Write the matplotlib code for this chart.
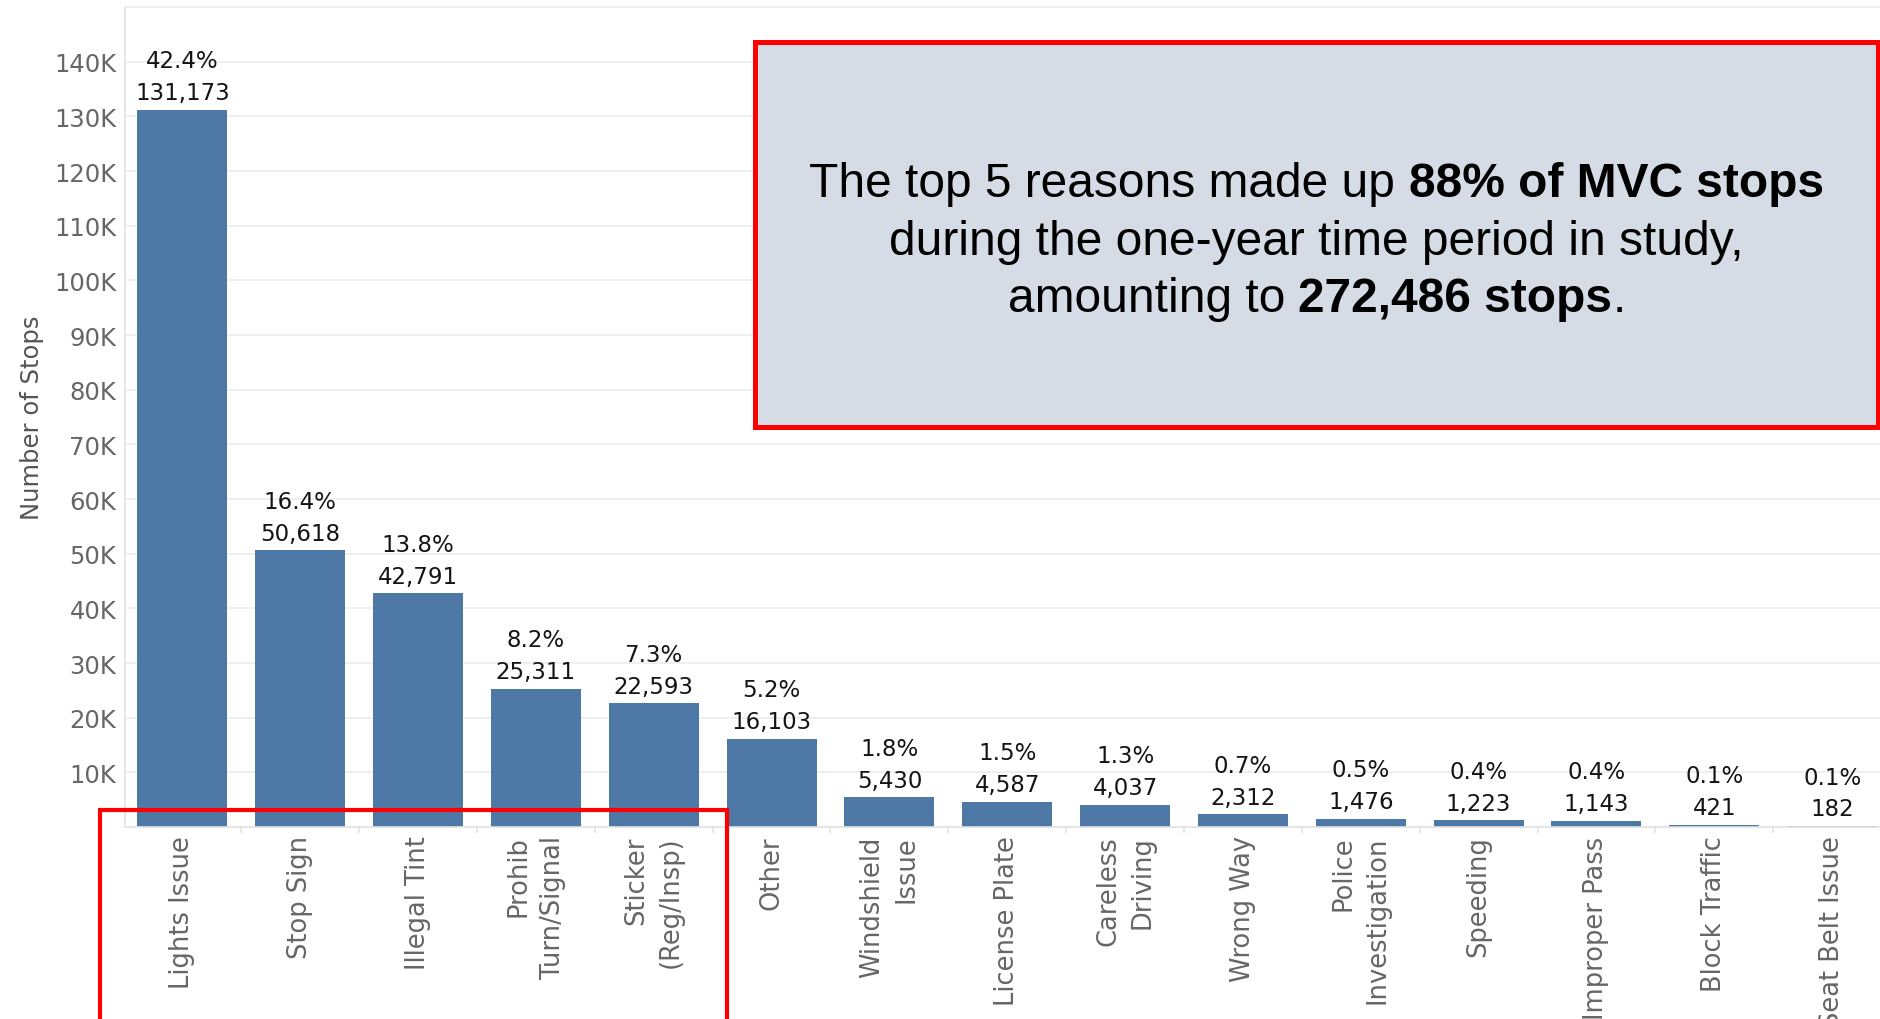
import matplotlib
matplotlib.use("Agg")
import matplotlib.pyplot as plt
from matplotlib.patches import Rectangle
from matplotlib.transforms import IdentityTransform

# ---------------- data ----------------
categories = ["Lights Issue", "Stop Sign", "Illegal Tint", "Prohib\nTurn/Signal",
              "Sticker\n(Reg/Insp)", "Other", "Windshield\nIssue", "License Plate",
              "Careless\nDriving", "Wrong Way", "Police\nInvestigation", "Speeding",
              "Improper Pass", "Block Traffic", "Seat Belt Issue"]
stops = [131173, 50618, 42791, 25311, 22593, 16103, 5430, 4587, 4037,
         2312, 1476, 1223, 1143, 421, 182]
percent_labels = ["42.4%", "16.4%", "13.8%", "8.2%", "7.3%", "5.2%", "1.8%", "1.5%",
                  "1.3%", "0.7%", "0.5%", "0.4%", "0.4%", "0.1%", "0.1%"]
ytick_values = [10000 * k for k in range(1, 15)]
ytick_labels = [f"{v // 1000}K" for v in ytick_values]
y_label = "Number of Stops"
callout_lines = [
    [("The top 5 reasons made up", "normal"), ("88% of MVC stops", "bold")],
    [("during the one-year time period in study,", "normal")],
    [("amounting to", "normal"), ("272,486 stops", "bold"), (".", "normal")],
]

# ---------------- style ----------------
W, H, DPI = 1880, 1020, 100
BAR_COLOR = "#4E79A7"
GRID_COLOR = "#EEEEEE"
AXIS_COLOR = "#E2E2E2"
TICK_COLOR = "#666666"

fig = plt.figure(figsize=(W / DPI, H / DPI), dpi=DPI)
fig.patch.set_facecolor("white")

ax_left, ax_bottom = 124.7 / W, (H - 828) / H
ax_top = (H - 8) / H
ax = fig.add_axes([ax_left, ax_bottom, 1.0 - ax_left, ax_top - ax_bottom])

x = list(range(len(categories)))
ax.bar(x, stops, width=0.764, color=BAR_COLOR, zorder=2)

ax.set_xlim(-0.489, len(categories) - 1 + 0.406)
ax.set_ylim(0, 150000)

# grid / spines
ax.set_axisbelow(True)
ax.yaxis.grid(True, color=GRID_COLOR, lw=1.3)
for s in ["left", "bottom", "top"]:
    ax.spines[s].set_color(AXIS_COLOR)
    ax.spines[s].set_linewidth(1.2)
ax.spines["top"].set_color(GRID_COLOR)
ax.spines["right"].set_visible(False)

# y ticks
ax.set_yticks(ytick_values)
ax.set_yticklabels(ytick_labels)
ax.tick_params(axis="y", length=0, pad=6, labelsize=17.5, labelcolor=TICK_COLOR)
for t in ax.get_yticklabels():
    t.set_family("DejaVu Sans")

ax.set_ylabel(y_label, fontsize=17.5, color="#555555", family="DejaVu Sans")
ax.yaxis.set_label_coords((44 - 124.7) / (W - 124.7), 0.5)

# x ticks
ax.set_xticks(x)
ax.set_xticklabels(categories, rotation=90, ma="right", fontsize=18.5,
                   color=TICK_COLOR, linespacing=1.4, family="DejaVu Sans")
ax.tick_params(axis="x", which="major", length=0, pad=6)
ax.set_xticks([i + 0.5 for i in range(len(categories) - 1)], minor=True)
ax.tick_params(axis="x", which="minor", length=4, width=1.2, color=AXIS_COLOR)

# bar value labels
for xi, v, p in zip(x, stops, percent_labels):
    ax.annotate(f"{v:,}", (xi, v), xytext=(0, 4), textcoords="offset points",
                ha="center", va="bottom", fontsize=16.5, color="#141414",
                family="DejaVu Sans")
    ax.annotate(p, (xi, v), xytext=(0, 27), textcoords="offset points",
                ha="center", va="bottom", fontsize=16.5, color="#141414",
                family="DejaVu Sans")

# ---------------- red boxes ----------------
# lower-left highlight box (top 5)
fig.add_artist(Rectangle((100 / W, -20 / H), (727 - 100) / W, (H - 811 + 20) / H,
                         transform=fig.transFigure, fill=False, edgecolor="#FF0000",
                         lw=3.0, zorder=5, clip_on=False))
# callout box
bx0, by_top, bx1, by_bot = 755, 43, 1878, 428
fig.add_artist(Rectangle((bx0 / W, (H - by_bot) / H), (bx1 - bx0) / W, (by_bot - by_top) / H,
                         transform=fig.transFigure, facecolor="#D6DCE5",
                         edgecolor="#FF0000", lw=3.6, zorder=5))

# callout rich text
renderer = fig.canvas.get_renderer()
FS = 34.5
space_px = 0.278 * FS * DPI / 72
cx = (bx0 + bx1) / 2
baselines = [197, 255, 312]
for line, yb in zip(callout_lines, baselines):
    texts = []
    for s, w in line:
        t = fig.text(0, 0, s, fontsize=FS, fontweight=w, family="Liberation Sans",
                     color="black", transform=IdentityTransform(), va="baseline",
                     ha="left", zorder=6)
        texts.append(t)
    widths = [t.get_window_extent(renderer=renderer).width for t in texts]
    gaps = []
    for i in range(len(line) - 1):
        gaps.append(0 if line[i + 1][0].startswith(".") else space_px)
    total = sum(widths) + sum(gaps)
    xpos = cx - total / 2
    for i, t in enumerate(texts):
        t.set_position((xpos, H - yb))
        xpos += widths[i] + (gaps[i] if i < len(gaps) else 0)

fig.savefig("out.png", dpi=DPI)
